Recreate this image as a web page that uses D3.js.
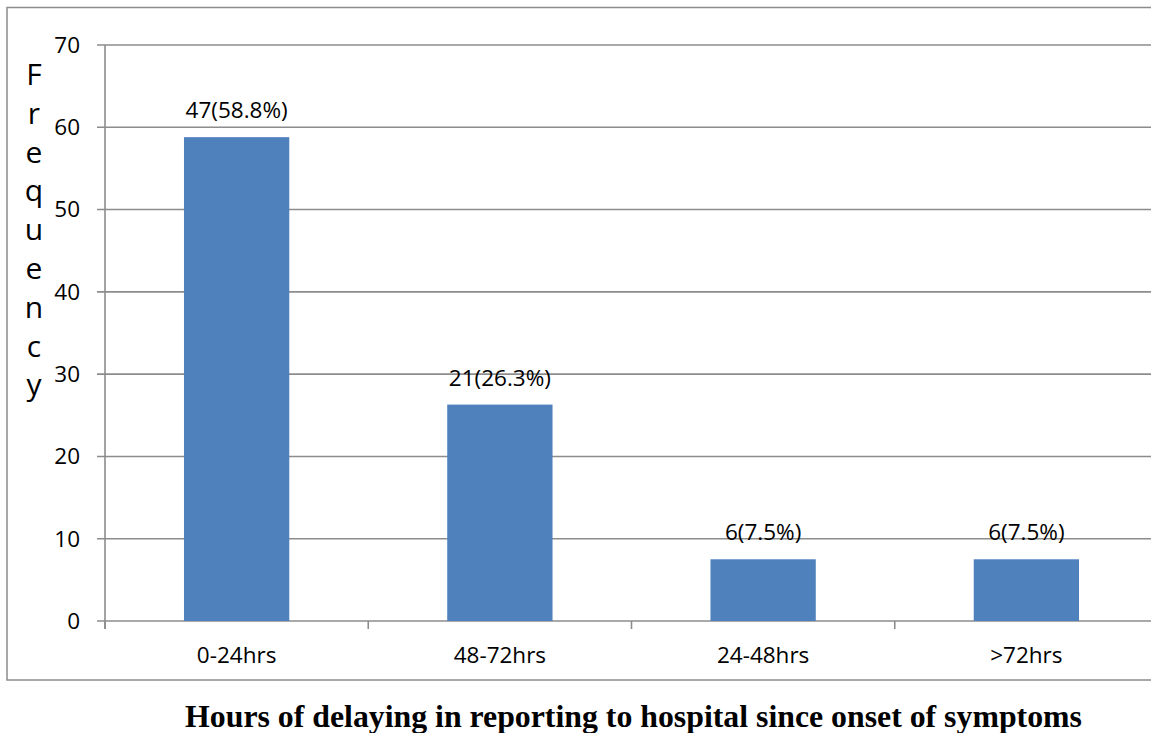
<!DOCTYPE html>
<html>
<head>
<meta charset="utf-8">
<script src="https://cdn.jsdelivr.net/npm/d3@7"></script>
<style>
  html, body { margin: 0; padding: 0; background: #fff; }
  svg { display: block; }
</style>
</head>
<body>
<svg id="chart" width="1151" height="733"></svg>
<script>
// Delay categories and their share of patients
const categories = ["0-24hrs", "48-72hrs", "24-48hrs", ">72hrs"];
const counts = [47, 21, 6, 6];
const percents = [58.8, 26.3, 7.5, 7.5];
const yTicks = [0, 10, 20, 30, 40, 50, 60, 70];
const yLabel = "Frequency";
const xTitle = "Hours of delaying in reporting to hospital since onset of symptoms";

const svg = d3.select("#chart");
const plotLeft = 105, plotRight = 1158, plotTop = 45, plotBottom = 621;
const labelFont = "'Open Sans', 'Noto Sans', sans-serif";
const labelSize = "22.5px";
const gridColor = "#8c8c8c";

// outer frame
svg.append("rect")
  .attr("x", 7).attr("y", 7.5)
  .attr("width", 1160).attr("height", 672.5)
  .attr("fill", "none").attr("stroke", gridColor).attr("stroke-width", 1.5);

const x = d3.scaleBand()
  .domain(categories)
  .range([plotLeft, plotRight])
  .paddingInner(0.6)
  .paddingOuter(0.3);

const y = d3.scaleLinear().domain([0, 70]).range([plotBottom, plotTop]);

// horizontal gridlines with outward tick stubs
svg.append("g")
  .selectAll("line")
  .data(yTicks)
  .join("line")
  .attr("x1", plotLeft - 8).attr("x2", plotRight)
  .attr("y1", d => y(d)).attr("y2", d => y(d))
  .attr("stroke", gridColor).attr("stroke-width", 1.6);

// vertical axis line
svg.append("line")
  .attr("x1", plotLeft).attr("x2", plotLeft)
  .attr("y1", plotTop).attr("y2", plotBottom + 8)
  .attr("stroke", gridColor).attr("stroke-width", 1.6);

// category boundary ticks below the baseline
const step = x.step();
const boundaries = d3.range(categories.length + 1).map(i => plotLeft + i * step);
svg.append("g")
  .selectAll("line")
  .data(boundaries)
  .join("line")
  .attr("x1", d => d).attr("x2", d => d)
  .attr("y1", plotBottom).attr("y2", plotBottom + 8)
  .attr("stroke", gridColor).attr("stroke-width", 1.6);

// y tick labels
svg.append("g")
  .selectAll("text")
  .data(yTicks)
  .join("text")
  .attr("x", 80).attr("y", d => y(d))
  .attr("dy", "0.35em")
  .attr("text-anchor", "end")
  .style("font-family", labelFont)
  .style("font-size", labelSize)
  .attr("fill", "#000")
  .text(d => d);

// bars
svg.append("g")
  .selectAll("rect")
  .data(categories)
  .join("rect")
  .attr("x", d => x(d))
  .attr("width", x.bandwidth())
  .attr("y", (d, i) => y(percents[i]))
  .attr("height", (d, i) => plotBottom - y(percents[i]))
  .attr("fill", "#4f81bd");

// value labels
svg.append("g")
  .selectAll("text")
  .data(categories)
  .join("text")
  .attr("x", d => x(d) + x.bandwidth() / 2)
  .attr("y", (d, i) => y(percents[i]) - 19)
  .attr("text-anchor", "middle")
  .style("font-family", labelFont)
  .style("font-size", labelSize)
  .attr("fill", "#000")
  .text((d, i) => `${counts[i]}(${percents[i]}%)`);

// category labels
svg.append("g")
  .selectAll("text")
  .data(categories)
  .join("text")
  .attr("x", d => x(d) + x.bandwidth() / 2)
  .attr("y", 663)
  .attr("text-anchor", "middle")
  .style("font-family", labelFont)
  .style("font-size", labelSize)
  .attr("fill", "#000")
  .text(d => d);

// stacked vertical axis label
svg.append("g")
  .selectAll("text")
  .data(yLabel.split(""))
  .join("text")
  .attr("x", 34)
  .attr("y", (d, i) => 85 + i * 38.8)
  .attr("text-anchor", "middle")
  .style("font-family", labelFont)
  .style("font-size", "30px")
  .attr("fill", "#000")
  .text(d => d);

// axis title
svg.append("text")
  .attr("x", 633.5).attr("y", 727)
  .attr("text-anchor", "middle")
  .style("font-family", "'Liberation Serif', 'Times New Roman', serif")
  .style("font-weight", "bold")
  .style("font-size", "31.8px")
  .attr("fill", "#000")
  .text(xTitle);
</script>
</body>
</html>
